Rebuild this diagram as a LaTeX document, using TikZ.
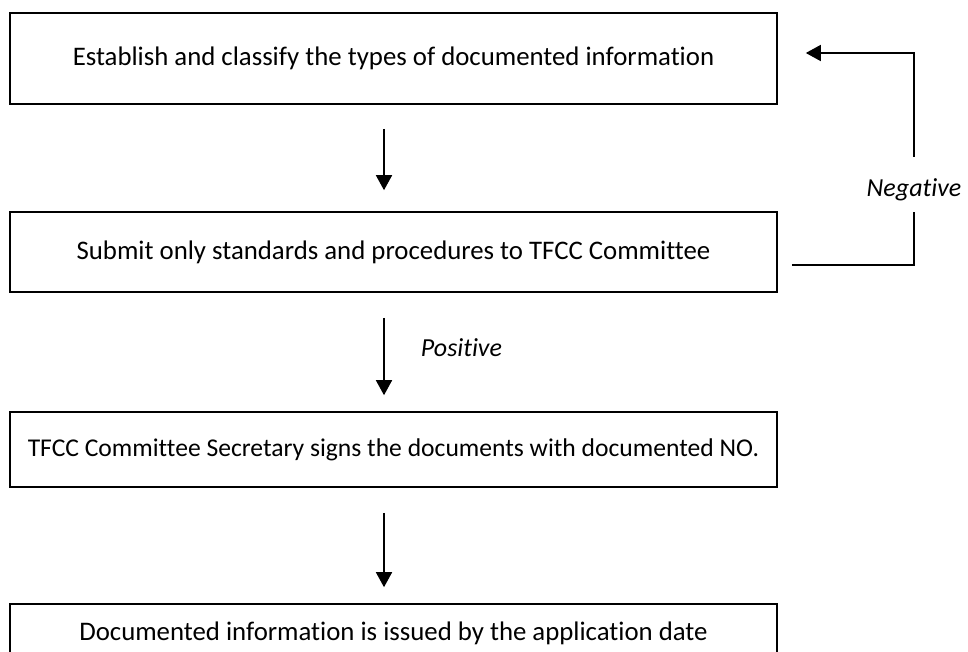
\documentclass[tikz,border=0pt]{standalone}
\usepackage{fontspec}
\setmainfont{Carlito}[Ligatures=NoCommon]
\usetikzlibrary{positioning,calc,arrows.meta}
\tikzset{
  procbox/.style={draw, line width=1.6pt, minimum width=767pt, inner sep=0pt, font=\fontsize{26.8}{30}\selectfont},
  flow/.style={line width=1.6pt, -{Triangle[width=16pt,length=15pt]}, shorten <=25pt, shorten >=16pt},
  branch/.style={font=\fontsize{26}{30}\selectfont\itshape, inner sep=0pt}
}
\begin{document}
\begin{tikzpicture}[x=1pt,y=-1pt]
    \useasboundingbox (0,0) rectangle (968,652);
    \node[procbox, minimum height=91pt] (classify) at (393.5,58.5) {Establish and classify the types of documented information};
    \node[procbox, minimum height=80pt] (submit) at (393.5,252) {Submit only standards and procedures to TFCC Committee};
    \node[procbox, minimum height=75pt, font=\fontsize{25.6}{30}\selectfont] (sign) at (393.5,449.5) {TFCC Committee Secretary signs the documents with documented NO.};
    \node[procbox, minimum height=58pt] (issue) at (393.5,633) {Documented information is issued by the application date};
    \draw[flow, shorten <=24pt, shorten >=21pt] ([xshift=-9.5pt]classify.south) -- ([xshift=-9.5pt]submit.north);
    \draw[flow] ([xshift=-9.5pt]submit.south) -- ([xshift=-9.5pt]sign.north);
    \draw[flow] ([xshift=-9.5pt]sign.south) -- ([xshift=-9.5pt]issue.north);
    \node[branch] (pos) at (461.5,348) {Positive};
    \node[branch] (neg) at (914,190) {Negative};
    \coordinate (back) at ([xshift=14pt,yshift=-13pt]submit.east);
    \draw[line width=1.6pt] (back) -| ([yshift=-11pt]neg.south);
    \draw[flow, shorten <=0pt, shorten >=0pt] ([yshift=22pt]neg.north) |- ([xshift=28pt,yshift=5.5pt]classify.east);
\end{tikzpicture}
\end{document}
